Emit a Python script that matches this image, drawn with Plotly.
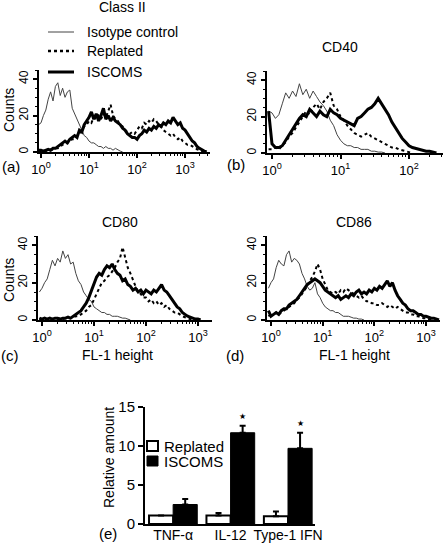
import plotly.graph_objects as go

W, H = 445, 544
FONT = "Liberation Sans, Arial, Helvetica, sans-serif"


def px(x):
    return x / W


def py(y):
    return 1 - y / H


# ---------------- data ----------------
# histogram bins (log10 of FL-1 channel), 0.05-decade steps starting at -0.05
bins_a = [round(-0.05 + 0.05 * k, 2) for k in range(72)]
bins_b = [round(-0.05 + 0.05 * k, 2) for k in range(52)]
bins_c = [round(-0.05 + 0.05 * k, 2) for k in range(68)]
bins_d = [round(-0.05 + 0.05 * k, 2) for k in range(68)]

# (a) Class II
iso_a = [15, 16, 20, 23, 29, 33, 28, 36, 38, 31, 35, 30, 33, 34, 24, 21, 18, 14, 12, 9, 8,
         6, 5, 5, 4, 3, 3, 2, 3, 2, 2, 1, 2, 1, 0.5, 0]
rep_a = [0.5, 0.5, 1, 0.5, 1, 1, 1.5, 2, 2, 3, 4, 4, 5, 6, 7, 7, 9, 10, 12, 14, 15,
         17, 16, 19, 18, 20, 18, 21, 19, 22, 26, 20, 18, 17, 15, 14, 12, 11, 10, 11, 10,
         12, 14, 13, 16, 15, 17, 16, 18, 17, 15, 14, 12, 11, 10, 9, 10, 8, 7, 8, 6,
         5, 4, 4, 3, 2, 1.5, 1, 0.5, 0]
isc_a = [1, 1, 0.5, 1, 1.5, 1, 2, 2, 3, 4, 5, 6, 5, 7, 8, 9, 8, 12, 11, 15, 17,
         19, 22, 18, 21, 17, 20, 24, 18, 20, 17, 19, 17, 16, 15, 13, 12, 10, 9, 8, 8,
         7, 9, 10, 12, 11, 13, 12, 14, 13, 15, 14, 16, 15, 17, 16, 19, 17, 15, 16, 13,
         12, 10, 8, 6, 5, 3, 2, 1, 0.5, 0]

# (b) CD40
iso_b = [23, 22, 19, 21, 27, 33, 30, 34, 31, 38, 32, 35, 30, 34, 31, 28, 26, 23, 18, 15, 10,
         7, 5, 4, 4, 3, 3, 2, 2, 2, 1, 1, 0.5, 0.5, 0]
isc_b = [23, 5, 3, 3, 4, 7, 10, 13, 16, 19, 21, 20, 24, 22, 20, 23, 21, 20, 24, 22, 21,
         19, 18, 17, 16, 15, 19, 20, 22, 24, 25, 27, 30, 27, 24, 21, 17, 14, 11, 8, 6,
         4, 3, 2.5, 2, 1.5, 1, 1, 0.5, 0]
rep_b = [2, 2, 3, 2, 4, 6, 9, 11, 14, 17, 20, 23, 21, 25, 27, 24, 28, 30, 33, 26, 24,
         20, 18, 15, 13, 11, 10, 9, 10, 11, 9, 8, 7, 6, 5, 4, 3, 3, 2, 1.5, 1, 0.5, 0]

# (c) CD80
iso_c = [15, 17, 20, 22, 27, 32, 29, 33, 31, 37, 33, 35, 30, 31, 25, 21, 19, 15, 13, 11, 10,
         7, 6, 5, 4, 4, 3, 3, 2, 2, 2, 1.5, 1, 1, 0.5, 0]
isc_c = [1, 0.5, 1, 0.5, 1, 0.5, 1, 1, 0.5, 1, 1, 1.5, 1, 2, 3, 4, 5, 7, 9, 12, 16,
         20, 23, 25, 24, 27, 29, 28, 30, 27, 25, 24, 21, 22, 19, 18, 16, 17, 15, 16, 14,
         16, 15, 14, 16, 15, 17, 19, 16, 15, 13, 11, 9, 7, 6, 4, 3, 2, 1.5, 1, 0.5,
         0.5, 0]
rep_c = [0.5, 0.5, 0, 0.5, 0.5, 0.5, 0.5, 0.5, 1, 0.5, 1, 1, 1, 1.5, 2, 2, 3, 4, 5, 7, 8,
         11, 14, 17, 20, 21, 23, 24, 26, 28, 31, 33, 39, 34, 28, 25, 21, 18, 15, 14, 12,
         12, 10, 11, 9, 10, 8, 9, 7, 8, 6, 5, 4, 4, 3, 2, 1.5, 1, 0.5, 0]

# (d) CD86
iso_d = [17, 20, 22, 28, 32, 30, 29, 35, 37, 31, 33, 32, 30, 25, 22, 18, 16, 17, 20, 14, 12,
         9, 7, 6, 5, 5, 4, 4, 3, 2, 2, 2, 1.5, 1, 1, 0.5, 0.5, 0]
isc_d = [5, 2, 3, 4, 3, 5, 6, 6, 8, 9, 10, 11, 13, 15, 17, 19, 20, 21, 22, 21, 20,
         18, 16, 15, 14, 13, 12, 13, 11, 12, 13, 12, 14, 13, 15, 16, 14, 15, 14, 16, 15,
         17, 16, 18, 17, 19, 21, 18, 20, 16, 13, 11, 9, 8, 6, 5, 5, 4, 3, 3, 2,
         2, 1.5, 1, 1, 0.5, 0]
rep_d = [2, 3, 3, 4, 3, 4, 5, 6, 7, 8, 9, 11, 12, 14, 16, 18, 21, 23, 26, 30, 27,
         22, 19, 16, 15, 14, 15, 14, 16, 15, 17, 16, 15, 14, 13, 12, 13, 11, 10, 10, 9,
         9, 8, 8, 9, 8, 7, 8, 7, 6, 7, 6, 5, 4, 4, 3, 3, 2, 2, 1.5, 1,
         1, 0.5, 0.5, 0]

# (e) cytokines
cytokines = ["TNF-α", "IL-12", "Type-1 IFN"]
replated_vals = [1.1, 1.1, 1.0]
replated_err = [0.0, 0.3, 0.6]
iscoms_vals = [2.5, 11.7, 9.7]
iscoms_err = [0.7, 0.9, 2.0]
significant = [False, True, True]

x_tickvals = [1, 10, 100, 1000]
x_ticktext = ["10<sup>0</sup>", "10<sup>1</sup>", "10<sup>2</sup>", "10<sup>3</sup>"]
x_minor = [2, 3, 4, 5, 6, 7, 8, 9, 20, 30, 40, 50, 60, 70, 80, 90,
           200, 300, 400, 500, 600, 700, 800, 900, 2000, 3000]

# ---------------- figure ----------------
fig = go.Figure()

panels = [
    ("", bins_a, iso_a, rep_a, isc_a),
    ("2", bins_b, iso_b, rep_b, isc_b),
    ("3", bins_c, iso_c, rep_c, isc_c),
    ("4", bins_d, iso_d, rep_d, isc_d),
]

for suf, bins, iso, rep, isc in panels:
    xa, ya = "x" + suf, "y" + suf
    for vals, line in [
        (iso, dict(color="#444444", width=1)),
        (rep, dict(color="black", width=2, dash="dot")),
        (isc, dict(color="black", width=3)),
    ]:
        fig.add_trace(go.Scatter(
            x=[10 ** b for b in bins[:len(vals)]], y=vals, mode="lines",
            line=line, xaxis=xa, yaxis=ya, hoverinfo="skip"))

fig.add_trace(go.Bar(
    x=cytokines, y=replated_vals, name="Replated", xaxis="x5", yaxis="y5",
    marker=dict(color="white", line=dict(color="black", width=2)),
    error_y=dict(type="data", symmetric=False, array=replated_err,
                 arrayminus=[0, 0, 0], thickness=2, width=3, color="black")))
fig.add_trace(go.Bar(
    x=cytokines, y=iscoms_vals, name="ISCOMS", xaxis="x5", yaxis="y5",
    marker=dict(color="black", line=dict(color="black", width=1)),
    error_y=dict(type="data", symmetric=False, array=iscoms_err,
                 arrayminus=[0, 0, 0], thickness=2, width=3, color="black")))


def hx(dom, rng, anchor):
    return dict(type="log", domain=dom, range=rng, anchor=anchor, automargin=False,
                tickmode="array", tickvals=x_tickvals, ticktext=x_ticktext,
                ticks="outside", ticklen=4, tickwidth=1.5, tickcolor="black",
                showline=True, linewidth=2, linecolor="black",
                showgrid=False, zeroline=False,
                tickfont=dict(size=13, color="black", family=FONT),
                minor=dict(tickmode="array", tickvals=x_minor, ticks="outside",
                           ticklen=2, tickwidth=1, tickcolor="black", showgrid=False))


def hy(dom, anchor):
    return dict(domain=dom, range=[0, 45], anchor=anchor, automargin=False,
                tickmode="array", tickvals=[0, 20, 40], tickangle=-90,
                ticks="outside", ticklen=4, tickwidth=1.5, tickcolor="black",
                showline=True, linewidth=2, linecolor="black",
                showgrid=False, zeroline=False,
                tickfont=dict(size=12, color="black", family=FONT),
                minor=dict(tick0=0, dtick=5, ticks="outside", ticklen=2,
                           tickwidth=1, tickcolor="black", showgrid=False))


layout = dict(
    template="none",
    width=W, height=H, margin=dict(l=0, r=0, t=0, b=0, pad=0, autoexpand=False),
    paper_bgcolor="white", plot_bgcolor="white", showlegend=False,
    font=dict(family=FONT, color="black", size=14),
    barmode="group", bargap=0.16, bargroupgap=0,
    xaxis=hx([px(39), px(210)], [-0.042, 3.52], "y"),
    yaxis=hy([py(152), py(70)], "x"),
    xaxis2=hx([px(267), px(443)], [-0.073, 2.496], "y2"),
    yaxis2=hy([py(153), py(71)], "x2"),
    xaxis3=hx([px(38), px(212)], [-0.077, 3.27], "y3"),
    yaxis3=hy([py(320), py(236)], "x3"),
    xaxis4=hx([px(267), px(440)], [-0.077, 3.27], "y4"),
    yaxis4=hy([py(320), py(236)], "x4"),
    xaxis5=dict(domain=[px(145), px(315)], anchor="y5", type="category", automargin=False,
                range=[-0.49, 2.47], showline=True, linewidth=2, linecolor="black",
                ticks="", showgrid=False, zeroline=False, ticklabelstandoff=-3,
                tickfont=dict(size=14, color="black", family=FONT)),
    yaxis5=dict(domain=[py(524), py(407)], anchor="x5", range=[0, 15], automargin=False,
                tickmode="array", tickvals=[0, 5, 10, 15],
                ticks="outside", ticklen=5, tickwidth=2, tickcolor="black",
                showline=True, linewidth=2, linecolor="black",
                showgrid=False, zeroline=False,
                tickfont=dict(size=15, color="black", family=FONT)),
)
fig.update_layout(**layout)

ann = []


def text(x, y, s, size=14, xanchor="center", angle=0):
    ann.append(dict(x=px(x), y=py(y), xref="paper", yref="paper", text=s,
                    showarrow=False, xanchor=xanchor, yanchor="middle",
                    textangle=angle, font=dict(size=size, family=FONT, color="black")))


text(122, 7, "Class II")
text(340, 47, "CD40")
text(120, 222, "CD80")
text(354, 222, "CD86")
text(85, 32, "Isotype control", xanchor="left")
text(85, 51, "Replated", xanchor="left")
text(85, 72, "ISCOMS", xanchor="left")
text(9, 110, "Counts", size=14, angle=-90)
text(9, 280, "Counts", size=14, angle=-90)
text(11, 166, "(a)", size=15)
text(236, 165, "(b)", size=15)
text(10, 355, "(c)", size=15)
text(235, 355, "(d)", size=15)
text(117, 355, "FL-1 height")
text(354, 355, "FL-1 height")
text(109, 458, "Relative amount", angle=-90)
text(108, 533, "(e)", size=15)
text(162, 446, "Replated", size=15, xanchor="left")
text(162, 461, "ISCOMS", size=15, xanchor="left")

for cat, v, e, sig in zip(cytokines, iscoms_vals, iscoms_err, significant):
    if sig:
        ann.append(dict(x=cat, y=v + e, xref="x5", yref="y5", text="★",
                        showarrow=False, xshift=12, yshift=3, yanchor="bottom",
                        font=dict(size=8, color="black", family="DejaVu Sans")))

fig.update_layout(annotations=ann)

shapes = [
    dict(type="line", xref="paper", yref="paper", x0=px(48), x1=px(74), y0=py(32), y1=py(32),
         line=dict(color="#444444", width=1)),
    dict(type="line", xref="paper", yref="paper", x0=px(48), x1=px(74), y0=py(51), y1=py(51),
         line=dict(color="black", width=2.5, dash="dot")),
    dict(type="line", xref="paper", yref="paper", x0=px(48), x1=px(74), y0=py(72), y1=py(72),
         line=dict(color="black", width=3)),
    dict(type="rect", xref="paper", yref="paper", x0=px(147), x1=px(158), y0=py(451), y1=py(441),
         fillcolor="white", line=dict(color="black", width=2)),
    dict(type="rect", xref="paper", yref="paper", x0=px(147), x1=px(158), y0=py(466), y1=py(456),
         fillcolor="black", line=dict(color="black", width=1)),
]
fig.update_layout(shapes=shapes)

fig.write_html("out.html", config={"displayModeBar": False},
               post_script="document.body.style.margin='0';document.body.style.overflow='hidden';")
